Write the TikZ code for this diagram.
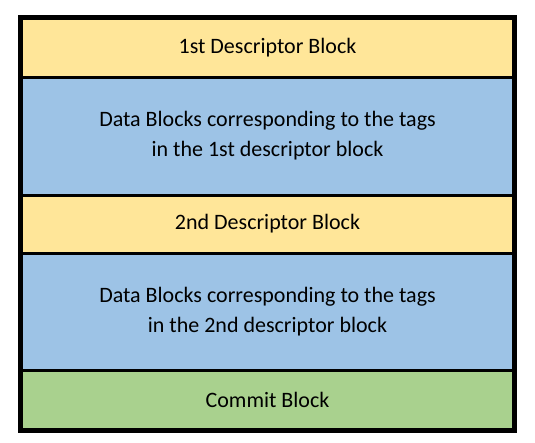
\documentclass[tikz,border=0pt]{standalone}
\usepackage{fontspec}
\setmainfont{Carlito}
\definecolor{descy}{HTML}{FFE699}
\definecolor{datab}{HTML}{9DC3E6}
\definecolor{commg}{HTML}{A9D18E}
\begin{document}
\begin{tikzpicture}[x=1pt,y=-1pt,
  row/.style={draw=black,line width=3pt,minimum width=492pt,inner sep=0pt,
    align=center,font=\fontsize{22}{30}\selectfont,anchor=north west}]
\useasboundingbox (0,0) rectangle (535,442);
\node[row,fill=descy,minimum height=58.5pt] (d1) at (20,17) {1st Descriptor Block};
\node[row,fill=datab,minimum height=118pt] (b1) at (20,75.5) {Data Blocks corresponding to the tags\\in the 1st descriptor block};
\node[row,fill=descy,minimum height=58pt] (d2) at (20,193.5) {2nd Descriptor Block};
\node[row,fill=datab,minimum height=117pt] (b2) at (20,251.5) {Data Blocks corresponding to the tags\\in the 2nd descriptor block};
\node[row,fill=commg,minimum height=59.5pt] (c) at (20,368.5) {Commit Block};
\draw[line width=4pt] (d1.north west) rectangle (c.south east);
\end{tikzpicture}
\end{document}
